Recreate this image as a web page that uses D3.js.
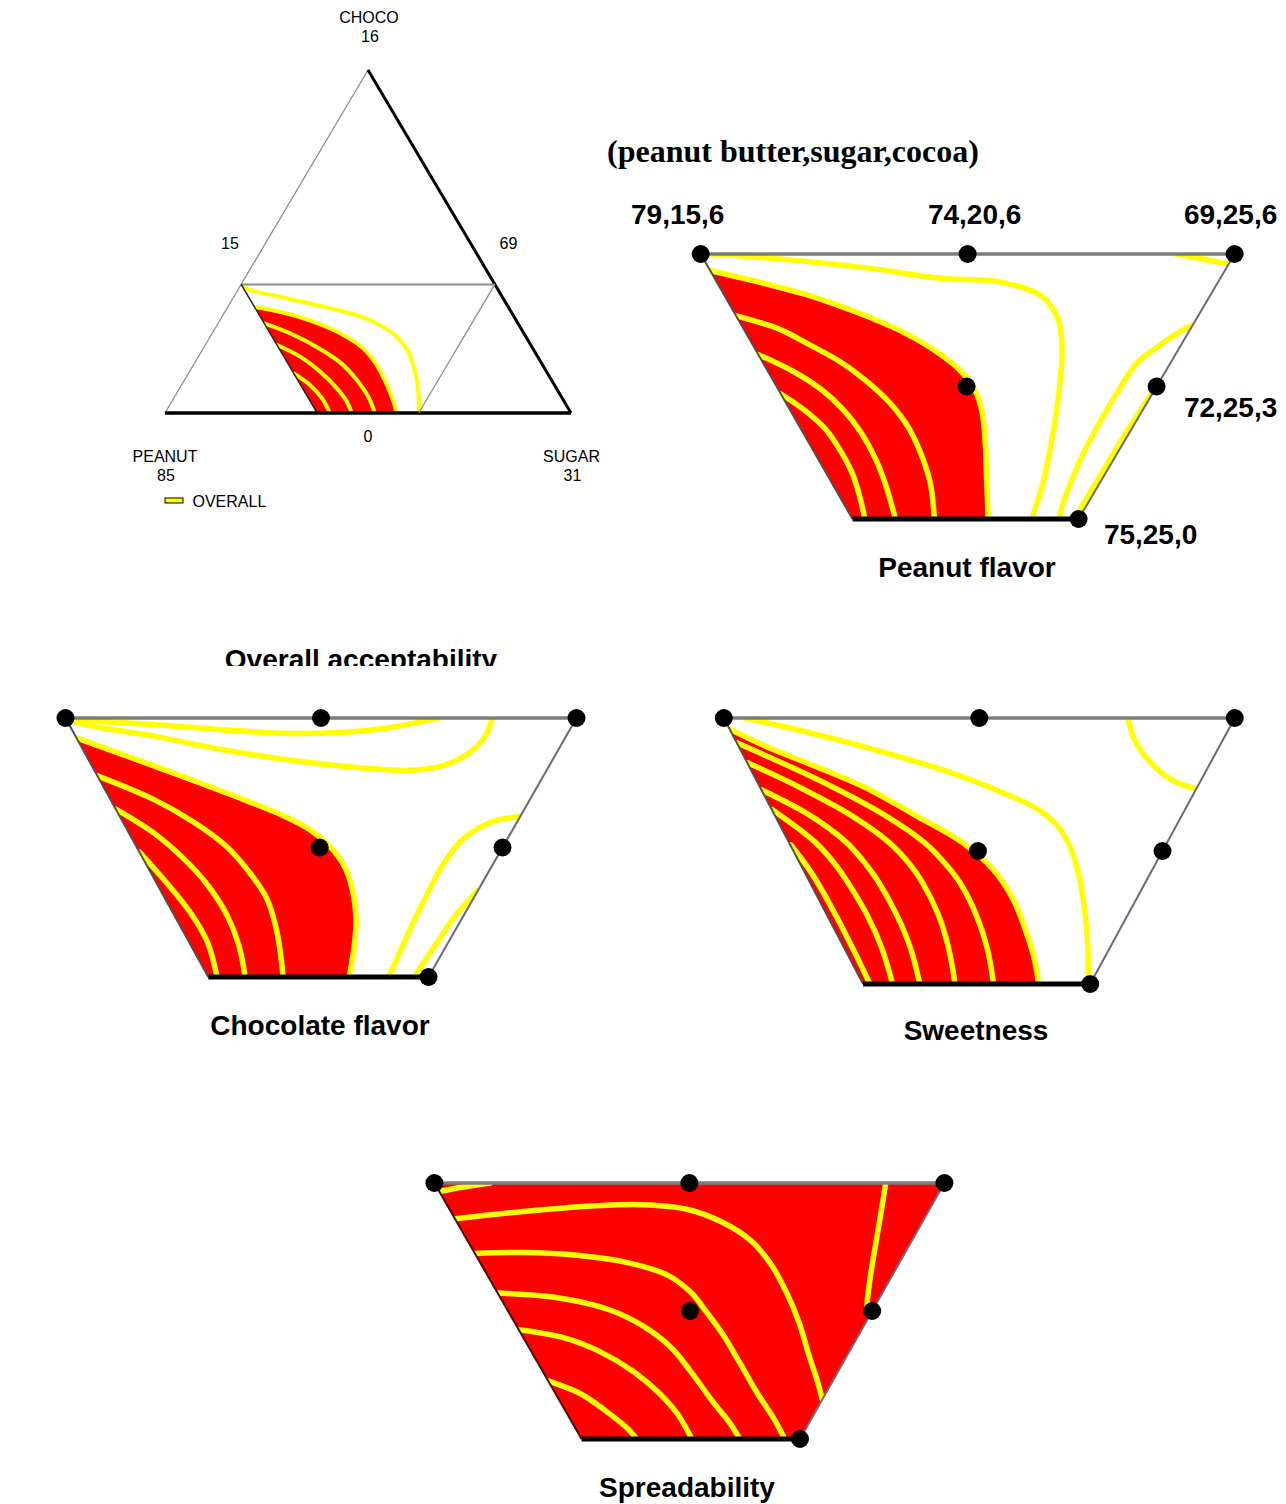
<!DOCTYPE html>
<html>
<head>
<meta charset="utf-8">
<script src="https://cdn.jsdelivr.net/npm/d3@7"></script>
<style>
  body { margin: 0; background: #fff; }
  svg { display: block; }
</style>
</head>
<body>
<svg id="chart" width="1286" height="1504"></svg>
<script>
// Mixture design for a chocolate peanut spread: peanut butter, sugar, cocoa (%).
// Contour points are stored as [sugar, cocoa]; peanut butter = 100 - sugar - cocoa.

const PEANUT_MAX = 79, SUGAR_MAX = 25, COCOA_MAX = 6;

const designPoints = [
  { label: "79,15,6", peanut: 79, sugar: 15, cocoa: 6 },
  { label: "74,20,6", peanut: 74, sugar: 20, cocoa: 6 },
  { label: "69,25,6", peanut: 69, sugar: 25, cocoa: 6 },
  { label: "72,25,3", peanut: 72, sugar: 25, cocoa: 3 },
  { label: "75,25,0", peanut: 75, sugar: 25, cocoa: 0 },
  { label: "75.5,21.5,3", peanut: 75.5, sugar: 21.5, cocoa: 3 }
];

// constrained region: cocoa <= 6, sugar <= 25, peanut butter <= 79
const regionCorners = [[15, 6], [25, 6], [25, 0], [21, 0]];

// full simplex of the ternary view (CHOCO 16 / PEANUT 85 / SUGAR 31)
const simplexCorners = [[15, 16], [15, 0], [31, 0]];
const axisLabels = [
  { name: "CHOCO", value: "16" },
  { name: "PEANUT", value: "85" },
  { name: "SUGAR", value: "31" }
];
const edgeLabels = ["15", "69", "0"];

// ---- Overall acceptability (ternary view) ----
const overallRegion = [[16.04,4.96],[17.17,4.72],[18.71,4.26],[20.04,3.72],[21.30,3.02],[22.22,2.24],[23.09,1.31],[23.74,0.53],[24.13,0]];
const overallLines = [
  [[16.82,4.18],[18.07,3.72],[19.44,3.08],[20.72,2.36],[21.79,1.54],[22.63,0.76],[23.27,0]],
  [[17.83,3.17],[19.01,2.63],[20.15,1.93],[21.20,1.15],[21.90,0.53],[22.36,0]],
  [[19.15,1.85],[20.06,1.31],[20.84,0.69],[21.50,0]],
  [[15.0,6],[15.24,5.82],[16.82,5.42],[18.76,4.96],[20.27,4.57],[21.42,4.10],[22.35,3.56],[23.16,2.86],[23.89,1.93],[24.49,0.99],[25,0]]
];

// ---- Peanut flavor ----
const peanutRegion = [[15.38,5.62],[16.48,5.35],[17.65,5.02],[18.71,4.64],[19.72,4.22],[20.54,3.79],[21.23,3.34],[21.72,2.89],[22.09,2.40],[22.45,1.79],[22.85,1.04],[23.40,0]];
const peanutLines = [
  [[16.40,4.60],[17.36,4.30],[18.16,3.92],[18.88,3.56],[19.55,3.15],[20.29,2.62],[20.96,2.02],[21.49,1.42],[21.95,0.82],[22.45,0]],
  [[17.28,3.72],[18.13,3.34],[18.88,2.92],[19.51,2.47],[20.12,1.94],[20.70,1.34],[21.20,0.74],[21.76,0]],
  [[18.17,2.83],[18.79,2.47],[19.43,2.02],[19.92,1.57],[20.43,1.04],[20.85,0.51],[21.22,0]],
  [[15.2,6],[15.62,5.97],[16.88,5.85],[18.31,5.68],[19.76,5.45],[20.92,5.37],[21.89,5.03],[22.44,4.51],[22.85,3.83],[23.18,3.08],[23.61,1.95],[23.98,0.82],[24.17,0.05],[24.20,0]],
  [[23.9,6],[24.49,5.88],[25,5.77]],
  [[24.70,0],[24.65,0.05],[24.42,1.18],[24.35,2.08],[24.34,2.85],[24.38,3.53],[24.58,3.89],[24.87,4.28],[25,4.4]],
  [[24.92,0],[24.93,1],[24.94,2],[24.97,2.6],[25,3.0]]
];

// ---- Chocolate flavor ----
const chocoRegion = [[15.46,5.54],[16.89,5.04],[18.29,4.54],[19.44,4.12],[20.44,3.73],[21.14,3.39],[21.75,2.97],[22.25,2.50],[22.65,1.97],[23.02,1.35],[23.29,0.74],[23.56,0]];
const chocoLines = [
  [[16.34,4.66],[17.71,4.12],[18.79,3.58],[19.68,3.04],[20.45,2.43],[21.11,1.81],[21.70,1.04],[22.36,0]],
  [[17.11,3.89],[18.12,3.35],[19.05,2.73],[19.83,2.12],[20.56,1.43],[21.15,0.74],[21.67,0]],
  [[18.10,2.90],[18.99,2.20],[19.83,1.50],[20.54,0.80],[21.16,0]],
  [[15.05,6],[15.40,5.95],[16.79,5.85],[18.21,5.73],[19.59,5.64],[20.59,5.67],[21.41,5.77],[22.13,5.95],[22.31,6]],
  [[15.05,6],[15.37,5.87],[16.94,5.58],[18.44,5.27],[19.91,5.02],[21.34,4.85],[22.37,4.79],[22.98,4.92],[23.34,5.27],[23.42,5.65],[23.35,6]],
  [[24.28,0],[24.18,0.81],[24.10,1.66],[24.05,2.58],[24.15,3.20],[24.49,3.58],[25,3.72]],
  [[24.74,0],[24.79,0.74],[24.85,1.43],[25,2.0]]
];

// ---- Sweetness ----
const sweetRegion = [[15.25,5.75],[16.22,5.34],[17.43,4.89],[18.67,4.40],[19.88,3.81],[21.09,3.20],[21.99,2.59],[22.70,1.92],[23.32,1.16],[23.80,0.49],[24.09,0]];
const sweetLines = [
  [[15.56,5.44],[16.90,4.90],[18.06,4.40],[19.30,3.81],[20.37,3.20],[21.07,2.68],[21.51,2.30],[22.20,1.56],[22.78,0.81],[23.30,0]],
  [[16.02,4.99],[17.41,4.40],[18.65,3.81],[19.70,3.20],[20.39,2.68],[20.81,2.30],[21.50,1.56],[22.08,0.81],[22.62,0]],
  [[16.62,4.38],[17.86,3.81],[18.89,3.20],[19.56,2.68],[19.99,2.30],[20.73,1.56],[21.39,0.81],[22.00,0]],
  [[17.08,3.93],[18.30,3.20],[18.98,2.68],[19.41,2.30],[20.18,1.56],[20.87,0.81],[21.52,0]],
  [[17.87,3.14],[18.42,2.68],[18.84,2.30],[19.60,1.56],[20.34,0.81],[21.12,0]],
  [[15.4,6],[15.78,5.92],[17.71,5.45],[20.07,4.77],[21.30,4.32],[22.15,3.95],[22.73,3.57],[23.24,3.05],[23.73,2.37],[24.18,1.62],[24.58,0.86],[24.89,0.19],[25,0]],
  [[22.91,6],[23.26,5.53],[23.83,5.0],[24.46,4.59],[25,4.40]]
];

// ---- Spreadability (whole region shaded) ----
const spreadLines = [
  [[15.2,5.8],[15.58,5.9],[16.1,6]],
  [[15.84,5.16],[17.08,5.33],[18.36,5.46],[19.35,5.49],[20.28,5.38],[21.10,5.08],[21.85,4.66],[22.51,4.11],[23.13,3.45],[23.70,2.76],[24.26,1.98],[24.71,1.36],[25,0.93]],
  [[16.65,4.35],[17.58,4.37],[18.61,4.31],[19.70,4.14],[20.65,3.84],[21.32,3.42],[21.79,3.01],[22.40,2.45],[23.04,1.79],[23.70,1.09],[24.31,0.47],[24.72,0]],
  [[17.58,3.42],[18.79,3.31],[19.93,3.03],[20.79,2.64],[21.57,2.14],[22.25,1.55],[22.96,0.89],[23.52,0.39],[23.90,0]],
  [[18.44,2.56],[19.41,2.37],[20.23,2.06],[21.12,1.59],[21.91,1.05],[22.47,0.58],[23.02,0]],
  [[19.64,1.36],[20.43,1.05],[21.09,0.66],[21.68,0.27],[22.01,0]],
  [[23.85,6],[24.11,5.24],[24.37,4.46],[24.63,3.69],[24.89,3.03],[25,2.9]]
];

// ---------------------------------------------------------------------------
const RED = "#ff0000", YELLOW = "#ffff00";
const SANS = "'Liberation Sans', Arial, Helvetica, sans-serif";
const SERIF = "'Liberation Serif', 'Times New Roman', serif";
const svg = d3.select("#chart");
const defs = svg.append("defs");
const smooth = d3.line().curve(d3.curveCatmullRom.alpha(0.5));
const toPts = arr => arr.map(p => p.join(",")).join(" ");
const leftEdgeSugar = c => 100 - PEANUT_MAX - c;   // peanut butter at its maximum

// Projection of the constrained region into a quadrilateral frame
function regionProjection(f) {
  const y = d3.scaleLinear().domain([0, COCOA_MAX]).range([f.yB, f.yT]);
  const xLeft = d3.scaleLinear().domain([0, COCOA_MAX]).range([f.xBL, f.xTL]);
  const xRight = d3.scaleLinear().domain([0, COCOA_MAX]).range([f.xBR, f.xTR]);
  return ([s, c]) => {
    const row = d3.scaleLinear().domain([leftEdgeSugar(c), SUGAR_MAX]).range([xLeft(c), xRight(c)]);
    return [row(s), y(c)];
  };
}

// Ternary projection of the full simplex
const triX = d3.scaleLinear().domain([15, 31]).range([165, 571]);
const triY = d3.scaleLinear().domain([0, 16]).range([413, 70]);
const ternary = ([s, c]) => [triX(s + c / 2), triY(c)];

function drawResponse(g, project, region, lines, o) {
  const corners = regionCorners.map(project);
  defs.append("clipPath").attr("id", o.id).append("polygon").attr("points", toPts(corners));
  const body = g.append("g").attr("clip-path", `url(#${o.id})`);
  if (region === "all") {
    body.append("polygon").attr("points", toPts(corners)).attr("fill", RED);
  } else if (region) {
    const d = smooth(region.map(project)) + "L" + project([leftEdgeSugar(0), 0]).join(",") + "Z";
    body.append("path").attr("d", d).attr("fill", RED);
  }
  const contours = (region && region !== "all") ? lines.concat([region]) : lines;
  body.selectAll("path.contour").data(contours).join("path")
    .attr("class", "contour")
    .attr("d", l => smooth(l.map(project)))
    .attr("fill", "none")
    .attr("stroke", YELLOW)
    .attr("stroke-width", o.lw)
    .attr("stroke-linejoin", "round")
    .attr("stroke-linecap", "round");
}

function drawFrame(g, project, o) {
  const [tl, tr, br, bl] = regionCorners.map(project);
  const seg = (a, b, col, w) => g.append("line")
    .attr("x1", a[0]).attr("y1", a[1]).attr("x2", b[0]).attr("y2", b[1])
    .attr("stroke", col).attr("stroke-width", w);
  seg(tl, tr, "#7c7c7c", 3.5);
  seg(tl, bl, o.leftColor || "#505050", 2);
  seg(tr, br, "#6a6a78", 2);
  seg(bl, br, "#000", 5);
  g.selectAll("circle.design").data(designPoints).join("circle")
    .attr("class", "design")
    .attr("cx", d => project([d.sugar, d.cocoa])[0])
    .attr("cy", d => project([d.sugar, d.cocoa])[1])
    .attr("r", 9)
    .attr("fill", "#000");
}

function caption(text, x, y, size = 28) {
  return svg.append("text").attr("x", x).attr("y", y)
    .attr("text-anchor", "middle")
    .attr("font-family", SANS).attr("font-weight", "bold")
    .attr("font-size", size).attr("fill", "#000").text(text);
}

// ---- ternary view: overall acceptability ----
{
  const g = svg.append("g");
  const [apex, pl, sg] = simplexCorners.map(ternary);
  drawResponse(g, ternary, overallRegion, overallLines, { id: "clip-overall", lw: 4 });
  const [tl, tr, br, bl] = regionCorners.map(ternary);
  const seg = (a, b, col, w) => g.append("line")
    .attr("x1", a[0]).attr("y1", a[1]).attr("x2", b[0]).attr("y2", b[1])
    .attr("stroke", col).attr("stroke-width", w);
  seg(pl, apex, "#8c8c8c", 1.3);
  seg(apex, sg, "#000", 3);
  seg(pl, sg, "#000", 3.5);
  seg(tl, tr, "#8c8c8c", 2);
  seg(tr, br, "#8c8c8c", 1.3);
  seg(tl, bl, "#222", 1.5);

  const small = (t, x, y) => svg.append("text").attr("x", x).attr("y", y)
    .attr("text-anchor", "middle").attr("font-family", SANS)
    .attr("font-size", 16).attr("fill", "#000").text(t);
  const labelPos = [[369, 22.5], [165, 461.5], [571.5, 461.5]];
  axisLabels.forEach((a, i) => {
    small(a.name, labelPos[i][0], labelPos[i][1]);
    small(a.value, labelPos[i][0] + 1, labelPos[i][1] + 19);
  });
  const edgePos = [[230, 249], [508.5, 249], [368, 441.5]];
  edgeLabels.forEach((t, i) => small(t, edgePos[i][0], edgePos[i][1]));

  svg.append("rect").attr("x", 165).attr("y", 498).attr("width", 18).attr("height", 5)
    .attr("fill", YELLOW).attr("stroke", "#000").attr("stroke-width", 1);
  svg.append("text").attr("x", 192.5).attr("y", 506.5)
    .attr("font-family", SANS).attr("font-size", 16).attr("fill", "#000").text("OVERALL");
}

// caption of the ternary view, partly hidden under the panel below it
defs.append("clipPath").attr("id", "clip-caption")
  .append("rect").attr("x", 0).attr("y", 0).attr("width", 1286).attr("height", 666);
caption("Overall acceptability", 361, 669).attr("clip-path", "url(#clip-caption)");

// ---- trapezoid panels ----
const frames = {
  peanut: { xTL: 700.7, xTR: 1234.6, xBL: 852.5, xBR: 1078.6, yT: 254, yB: 519 },
  choco:  { xTL: 65.5,  xTR: 576.5,  xBL: 208.3, xBR: 428.5,  yT: 718, yB: 977 },
  sweet:  { xTL: 723.8, xTR: 1234.8, xBL: 863.1, xBR: 1090.2, yT: 718, yB: 984 },
  spread: { xTL: 434.4, xTR: 944.4,  xBL: 581.6, xBR: 800,    yT: 1183, yB: 1439 }
};

const panels = [
  { key: "peanut", region: peanutRegion, lines: peanutLines, title: "Peanut flavor", tx: 967, ty: 577 },
  { key: "choco",  region: chocoRegion,  lines: chocoLines,  title: "Chocolate flavor", tx: 320, ty: 1035 },
  { key: "sweet",  region: sweetRegion,  lines: sweetLines,  title: "Sweetness", tx: 976, ty: 1040 },
  { key: "spread", region: "all",        lines: spreadLines, title: "Spreadability", tx: 687, ty: 1497, leftColor: "#3a1010" }
];

panels.forEach(p => {
  const project = regionProjection(frames[p.key]);
  const g = svg.append("g");
  drawResponse(g, project, p.region, p.lines, { id: "clip-" + p.key, lw: 5.5 });
  drawFrame(g, project, { leftColor: p.leftColor });
  caption(p.title, p.tx, p.ty);
});

// composition labels next to the design points of the first panel
{
  const project = regionProjection(frames.peanut);
  const offsets = {
    "79,15,6": [-23, -30], "74,20,6": [7, -30], "69,25,6": [-4, -30],
    "72,25,3": [74, 30], "75,25,0": [72, 25]
  };
  designPoints.filter(d => offsets[d.label]).forEach(d => {
    const [x, y] = project([d.sugar, d.cocoa]);
    caption(d.label, x + offsets[d.label][0], y + offsets[d.label][1]);
  });
}

svg.append("text").attr("x", 607).attr("y", 162)
  .attr("font-family", SERIF).attr("font-weight", "bold").attr("font-size", 32)
  .attr("fill", "#000").text("(peanut butter,sugar,cocoa)");
</script>
</body>
</html>
